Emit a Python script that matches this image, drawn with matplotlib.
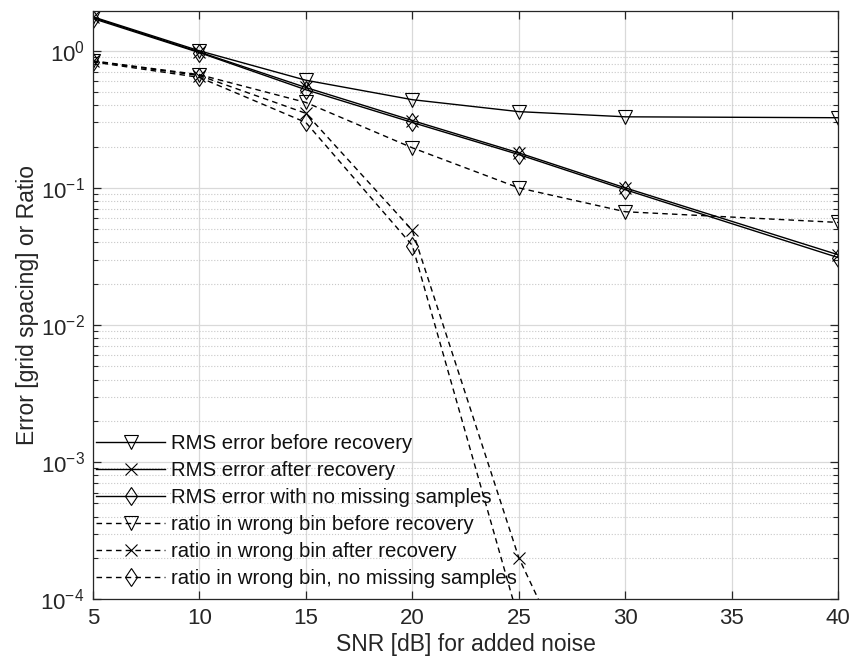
import numpy as np
import matplotlib
matplotlib.use("Agg")
import matplotlib.pyplot as plt
from matplotlib.ticker import LogLocator, NullFormatter

plt.rcParams['font.family'] = ['Liberation Sans', 'DejaVu Sans']
plt.rcParams['mathtext.fontset'] = 'custom'
plt.rcParams['mathtext.rm'] = 'Liberation Sans'
plt.rcParams['mathtext.it'] = 'Liberation Sans'
plt.rcParams['mathtext.bf'] = 'Liberation Sans'

# SNR values (dB)
snr = [5, 10, 15, 20, 25, 30, 40]

# RMS errors (solid lines)
rms_before = [1.77, 1.00, 0.61, 0.44, 0.36, 0.33, 0.325]
rms_after = [1.75, 0.98, 0.54, 0.31, 0.18, 0.10, 0.0325]
rms_nomiss = [1.72, 0.97, 0.52, 0.30, 0.175, 0.097, 0.031]

# ratio in wrong bin (dashed lines)
ratio_before = [0.845, 0.67, 0.42, 0.196, 0.10, 0.067, 0.056]
ratio_after = [0.84, 0.66, 0.35, 0.049, 2.0e-4, 4.5e-6, 1e-7]
ratio_nomiss = [0.83, 0.64, 0.30, 0.038, 7e-5, 1e-6, 1e-8]

labels = ["RMS error before recovery",
          "RMS error after recovery",
          "RMS error with no missing samples",
          "ratio in wrong bin before recovery",
          "ratio in wrong bin after recovery",
          "ratio in wrong bin, no missing samples"]

fig = plt.figure(figsize=(8.52, 6.71), dpi=100)
ax = fig.add_axes([0.109, 0.107, 0.875, 0.877])

axc = '#262626'
lw = 1.0
base = dict(fillstyle='none', markeredgewidth=0.8, color='black', linewidth=lw)
dash = (4, 3)

ax.plot(snr, rms_before, '-', marker='v', markersize=10, label=labels[0], **base)
ax.plot(snr, rms_after, '-', marker='x', markersize=8, label=labels[1], **base)
ax.plot(snr, rms_nomiss, '-', marker='d', markersize=9.5, label=labels[2], **base)
ax.plot(snr, ratio_before, '--', marker='v', markersize=10, label=labels[3], dashes=dash, **base)
ax.plot(snr, ratio_after, '--', marker='x', markersize=8, label=labels[4], dashes=dash, **base)
ax.plot(snr, ratio_nomiss, '--', marker='d', markersize=9.5, label=labels[5], dashes=dash, **base)

ax.set_yscale('log')
ax.set_xlim(5, 40)
ax.set_ylim(1e-4, 1.96)
ax.set_xticks([5, 10, 15, 20, 25, 30, 35, 40])
ax.yaxis.set_major_locator(LogLocator(base=10, numticks=10))
ax.yaxis.set_minor_locator(LogLocator(base=10, subs=np.arange(2, 10), numticks=50))
ax.yaxis.set_minor_formatter(NullFormatter())

# grids like matlab: solid major, dotted minor
ax.grid(True, which='major', color='#d9d9d9', linewidth=0.9, linestyle='-')
ax.grid(True, which='minor', axis='y', color='#c8c8c8', linewidth=0.8, linestyle=':')
ax.set_axisbelow(True)

ax.tick_params(which='both', direction='in', top=True, right=True, colors=axc, labelsize=16, pad=6)
ax.tick_params(which='major', length=6, width=0.9)
ax.tick_params(which='minor', length=3.5, width=0.8)
for s in ax.spines.values():
    s.set_color(axc)
    s.set_linewidth(0.9)

ax.set_xlabel("SNR [dB] for added noise", fontsize=16.5, color=axc, labelpad=3)
ax.set_ylabel("Error [grid spacing] or Ratio", fontsize=16.5, color=axc, labelpad=1)

leg = ax.legend(loc='lower left', bbox_to_anchor=(0.0, 0.013), frameon=False, fontsize=14.7,
                handlelength=3.4, handletextpad=0.3, labelspacing=0.4, borderaxespad=0.0,
                borderpad=0.15)
for t in leg.get_texts():
    t.set_color('#111111')

fig.savefig("out.png", dpi=100)
